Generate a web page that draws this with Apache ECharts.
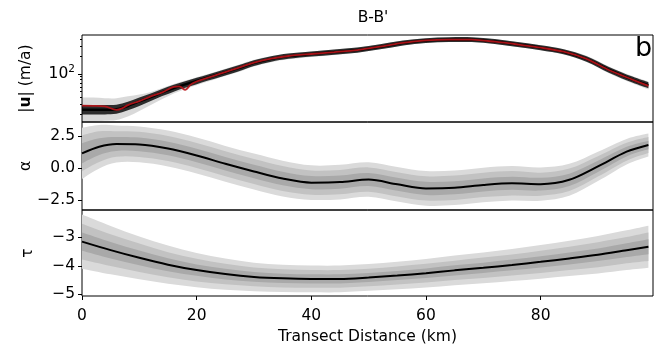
<!DOCTYPE html>
<html>
<head>
<meta charset="utf-8">
<script src="https://cdn.jsdelivr.net/npm/echarts@6/dist/echarts.min.js"></script>
<style>
html, body { margin: 0; padding: 0; background: #fff; }
#main { width: 665px; height: 356px; }
</style>
</head>
<body>
<div id="main"></div>
<script>
var myChart = echarts.init(document.getElementById('main'));
var FONT = 'DejaVu Sans';

// ---- panel 1 : speed |u| (m/a), log axis
var kmU = [0,2,4,6,8,10,12,14,16,18,20,22,24,26,28,30,33,36,40,44,48,52,56,60,64,68,72,76,80,84,88,92,96,98.8];
var speedMean = [24,24,24,24.5,28,33.5,40,48,57,66,76,87,100,115,133,155,182,203,221,238,258,295,343,378,390,390,362,322,284,242,182,117,80,64];
var speedOuterHi = [39,39,38,38,41,44,49,57,67,77,88,100,115,132,152,175,204,226,245,263,285,325,376,412,425,425,396,354,314,270,205,133,92,74];
var speedOuterLo = [15,15,15.5,16,18.5,23,29,37,46,55,64,74,86,99,114,134,159,179,197,213,232,266,310,345,357,357,330,293,257,217,161,102,69,54];
var speedInnerHi = [29,29,29,29.5,33,39,46,55,65,75,86,98,112,129,149,173,202,225,244,263,285,326,378,415,429,429,399,355,313,267,202,131,90,72];
var speedInnerLo = [20,20,20,20.5,23.5,28,34,41.5,49.5,57.5,66.5,77,88,101,117,137,162,182,199,215,233,266,310,343,355,355,329,292,257,218,163,104,71,56.5];
var kmObs = [0,2,4,6,7,8,10,12,14,16,17,18,19,20,22,24,26,28,30,33,36,40,44,48,52,56,60,64,68,72,76,80,84,88,92,96,98.8];
var speedObs = [28.4,28.2,27.5,24,25.5,29,34,41,48,60,61,53,66,74,86,100,116,135,157,184,204,221,238,258,296,345,380,392,390,360,322,284,242,182,116,80,62];

// ---- panel 2 : alpha
var kmA = [0,3,6,10,15,20,25,30,35,40,45,50,55,60,65,70,75,80,85,90,95,98.8];
var alphaMean = [1.17,1.69,1.90,1.87,1.55,1.00,0.35,-0.25,-0.80,-1.12,-1.08,-0.88,-1.25,-1.57,-1.52,-1.30,-1.17,-1.24,-0.90,0.15,1.30,1.82];
var alphaOuterHi = [3.17,3.39,3.35,3.27,2.95,2.40,1.75,1.15,0.60,0.23,0.27,0.47,0.10,-0.22,-0.17,0.05,0.18,0.06,0.35,1.30,2.30,2.72];
var alphaOuterLo = [-0.83,-0.01,0.45,0.47,0.15,-0.40,-1.05,-1.65,-2.20,-2.47,-2.43,-2.23,-2.60,-2.92,-2.87,-2.65,-2.52,-2.54,-2.15,-1.00,0.30,0.92];
var alphaMidHi = [2.57,2.89,2.90,2.85,2.53,1.98,1.33,0.73,0.18,-0.17,-0.13,0.07,-0.30,-0.62,-0.57,-0.35,-0.22,-0.34,-0.02,0.95,2.00,2.45];
var alphaMidLo = [-0.23,0.49,0.90,0.89,0.57,0.02,-0.63,-1.23,-1.78,-2.07,-2.03,-1.83,-2.20,-2.52,-2.47,-2.25,-2.12,-2.14,-1.78,-0.65,0.60,1.19];
var alphaInnerHi = [1.95,2.34,2.45,2.40,2.08,1.53,0.88,0.28,-0.27,-0.61,-0.57,-0.37,-0.74,-1.06,-1.01,-0.79,-0.66,-0.74,-0.42,0.59,1.68,2.16];
var alphaInnerLo = [0.39,1.04,1.35,1.34,1.02,0.47,-0.18,-0.78,-1.33,-1.63,-1.59,-1.39,-1.76,-2.08,-2.03,-1.81,-1.68,-1.74,-1.38,-0.29,0.92,1.48];

// ---- panel 3 : tau
var kmT = [0,5,10,15,20,25,30,35,40,45,50,55,60,65,70,75,80,85,90,95,98.8];
var tauMean = [-3.15,-3.45,-3.72,-3.96,-4.15,-4.29,-4.39,-4.44,-4.46,-4.46,-4.41,-4.34,-4.26,-4.16,-4.07,-3.97,-3.86,-3.74,-3.61,-3.45,-3.33];
var tauOuterHi = [-2.20,-2.60,-2.97,-3.29,-3.55,-3.74,-3.89,-3.96,-3.99,-3.99,-3.94,-3.86,-3.76,-3.64,-3.53,-3.41,-3.27,-3.12,-2.95,-2.75,-2.59];
var tauOuterLo = [-4.10,-4.30,-4.47,-4.63,-4.75,-4.84,-4.89,-4.92,-4.93,-4.93,-4.88,-4.82,-4.76,-4.68,-4.61,-4.53,-4.45,-4.36,-4.27,-4.15,-4.07];
var tauMidHi = [-2.52,-2.89,-3.22,-3.52,-3.75,-3.93,-4.06,-4.12,-4.15,-4.15,-4.10,-4.02,-3.93,-3.82,-3.71,-3.60,-3.47,-3.33,-3.17,-2.99,-2.83];
var tauMidLo = [-3.78,-4.01,-4.22,-4.40,-4.55,-4.65,-4.72,-4.76,-4.77,-4.77,-4.72,-4.66,-4.59,-4.50,-4.43,-4.34,-4.25,-4.15,-4.05,-3.91,-3.83];
var tauInnerHi = [-2.83,-3.16,-3.46,-3.73,-3.95,-4.10,-4.22,-4.28,-4.30,-4.30,-4.25,-4.18,-4.09,-3.98,-3.89,-3.78,-3.66,-3.53,-3.39,-3.21,-3.07];
var tauInnerLo = [-3.47,-3.74,-3.98,-4.19,-4.35,-4.48,-4.56,-4.60,-4.62,-4.62,-4.57,-4.50,-4.43,-4.34,-4.25,-4.16,-4.06,-3.95,-3.83,-3.69,-3.59];

var xTicks = [0, 20, 40, 60, 80];

function pairs(xs, ys) {
    return xs.map(function (x, i) { return [x, ys[i]]; });
}

// smooth curve through pixel points (catmull-rom as bezier)
function curve(pts) {
    var d = '';
    for (var i = 0; i < pts.length - 1; i++) {
        var p0 = pts[Math.max(i - 1, 0)], p1 = pts[i], p2 = pts[i + 1], p3 = pts[Math.min(i + 2, pts.length - 1)];
        d += ' C' + (p1[0] + (p2[0] - p0[0]) / 6) + ' ' + (p1[1] + (p2[1] - p0[1]) / 6) + ' ' +
            (p2[0] - (p3[0] - p1[0]) / 6) + ' ' + (p2[1] - (p3[1] - p1[1]) / 6) + ' ' + p2[0] + ' ' + p2[1];
    }
    return d;
}

function band(xi, yi, xs, hi, lo, color) {
    return {
        type: 'custom', xAxisIndex: xi, yAxisIndex: yi, data: [0], silent: true, clip: true, z: 1,
        renderItem: function (params, api) {
            var top = xs.map(function (x, i) { return api.coord([x, hi[i]]); });
            var bot = xs.map(function (x, i) { return api.coord([x, lo[i]]); }).reverse();
            var d = 'M' + top[0][0] + ' ' + top[0][1] + curve(top) +
                ' L' + bot[0][0] + ' ' + bot[0][1] + curve(bot) + ' Z';
            return { type: 'path', shape: { pathData: d }, style: { fill: color } };
        }
    };
}

function line(xi, yi, xs, ys, color, w) {
    return {
        type: 'line', xAxisIndex: xi, yAxisIndex: yi, data: pairs(xs, ys),
        showSymbol: false, smooth: 0.3, silent: true, z: 3,
        lineStyle: { color: color, width: w }
    };
}

var grids = [
    { left: 82, width: 571, top: 35, height: 87 },
    { left: 82, width: 571, top: 122, height: 88 },
    { left: 82, width: 571, top: 210, height: 86 }
].map(function (g) {
    g.show = true; g.borderColor = '#000'; g.borderWidth = 1; g.backgroundColor = 'transparent';
    return g;
});

var labelStyle = { color: '#000', fontFamily: FONT, fontSize: 15.5 };
var tickStyle = { length: 4, lineStyle: { color: '#000', width: 1 } };

function xAx(gi, showLabels) {
    return {
        type: 'value', gridIndex: gi, min: 0, max: 99.6,
        axisLine: { show: false }, splitLine: { show: false },
        axisTick: showLabels ? Object.assign({ show: true, customValues: xTicks }, tickStyle) : { show: false },
        axisLabel: showLabels ? Object.assign({ show: true, margin: 12, customValues: xTicks }, labelStyle) : { show: false },
        name: showLabels ? 'Transect Distance (km)' : '',
        nameLocation: 'middle', nameGap: 33,
        nameTextStyle: labelStyle
    };
}

var option = {
    animation: false,
    backgroundColor: '#fff',
    title: [
        { text: "B-B'", left: 368, top: 5, textAlign: 'center',
          textStyle: { fontFamily: FONT, fontSize: 15.5, fontWeight: 'normal', color: '#000' } },
        { text: 'b', left: 630, top: 30,
          textStyle: { fontFamily: FONT, fontSize: 27, fontWeight: 'normal', color: '#000' } }
    ],
    grid: grids,
    xAxis: [xAx(0, false), xAx(1, false), xAx(2, true)],
    yAxis: [
        {
            type: 'log', logBase: 10, gridIndex: 0, min: 14.8, max: 470, position: 'left',
            axisLine: { show: false }, splitLine: { show: false }, minorTick: { show: false },
            axisTick: Object.assign({ show: true, customValues: [100] }, tickStyle),
            axisLabel: Object.assign({
                show: true, margin: 7, customValues: [100],
                formatter: function () { return '10{s|2}'; },
                rich: { s: { fontFamily: FONT, fontSize: 10.5, verticalAlign: 'bottom', padding: [0, 0, 9, 0], color: '#000' } }
            }, labelStyle),
            name: '|{b|u}| (m/a)', nameLocation: 'middle', nameRotate: 90, nameGap: 48,
            nameTextStyle: Object.assign({ rich: { b: { fontFamily: FONT, fontSize: 15.5, fontWeight: 'bold', color: '#000' } } }, labelStyle)
        },
        {
            type: 'log', logBase: 10, gridIndex: 0, min: 14.8, max: 470, position: 'left', offset: 0,
            axisLine: { show: false }, splitLine: { show: false },
            axisTick: { show: true, length: 2, customValues: [20,30,40,50,60,70,80,90,200,300,400], lineStyle: { color: '#000', width: 1 } },
            axisLabel: { show: false }
        },
        {
            type: 'value', gridIndex: 1, min: -3.26, max: 3.62,
            axisLine: { show: false }, splitLine: { show: false },
            axisTick: Object.assign({ show: true, customValues: [-2.5, 0, 2.5] }, tickStyle),
            axisLabel: Object.assign({
                show: true, margin: 7, customValues: [-2.5, 0, 2.5],
                formatter: function (v) { return (v < 0 ? '\u2212' : '') + Math.abs(v).toFixed(1); }
            }, labelStyle),
            name: '\u03b1', nameLocation: 'middle', nameRotate: 90, nameGap: 48, nameMoveOverlap: false,
            nameTextStyle: labelStyle
        },
        {
            type: 'value', gridIndex: 2, min: -5.06, max: -2.04,
            axisLine: { show: false }, splitLine: { show: false },
            axisTick: Object.assign({ show: true, customValues: [-5, -4, -3] }, tickStyle),
            axisLabel: Object.assign({
                show: true, margin: 7, customValues: [-5, -4, -3],
                formatter: function (v) { return '\u2212' + Math.abs(v); }
            }, labelStyle),
            name: '\u03c4', nameLocation: 'middle', nameRotate: 90, nameGap: 46,
            nameTextStyle: labelStyle
        }
    ],
    series: []
};

var s = option.series;
// panel 1: ensemble spread, mean, observed
s.push(band(0, 0, kmU, speedOuterHi, speedOuterLo, 'rgba(0,0,0,0.15)'));
s.push(band(0, 0, kmU, speedInnerHi, speedInnerLo, 'rgba(0,0,0,0.8)'));
s.push(line(0, 0, kmU, speedMean, '#000', 2.5));
s.push(line(0, 0, kmObs, speedObs, 'rgba(185,20,25,0.9)', 1.8));

// panel 2: alpha
s.push(band(1, 2, kmA, alphaOuterHi, alphaOuterLo, '#dadada'));
s.push(band(1, 2, kmA, alphaMidHi, alphaMidLo, '#c2c2c2'));
s.push(band(1, 2, kmA, alphaInnerHi, alphaInnerLo, '#a9a9a9'));
s.push(line(1, 2, kmA, alphaMean, '#000', 2));

// panel 3: tau
s.push(band(2, 3, kmT, tauOuterHi, tauOuterLo, '#dadada'));
s.push(band(2, 3, kmT, tauMidHi, tauMidLo, '#c2c2c2'));
s.push(band(2, 3, kmT, tauInnerHi, tauInnerLo, '#a9a9a9'));
s.push(line(2, 3, kmT, tauMean, '#000', 2));

myChart.setOption(option);
</script>
</body>
</html>
